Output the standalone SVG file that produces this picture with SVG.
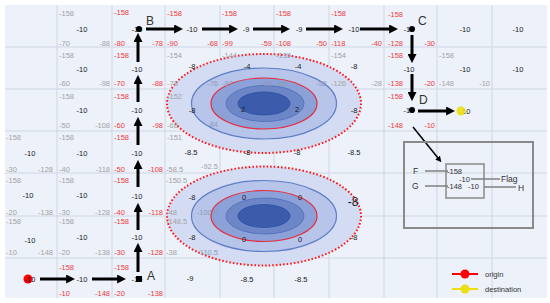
<svg xmlns="http://www.w3.org/2000/svg" width="550" height="303" viewBox="0 0 550 303">
<defs>
<style>
text{font-family:"Liberation Sans",Arial,sans-serif;font-size:7.5px}
.g{fill:#a3a3a3}
.gi{fill:#8f9abb}
.r{fill:#f23c3c}
.k{fill:#1a1a1a;text-anchor:middle}
.e{text-anchor:end}
.lbl{fill:#333;font-size:12px}
.lg{fill:#333;font-size:8.5px}
.grid{stroke:#cfd7e3;stroke-width:1}
.arr{stroke:#000;stroke-width:3;fill:none;marker-end:url(#ah)}
.dot{stroke:#ff1a1a;stroke-width:2;stroke-dasharray:1.6 2;fill:#d3dcf3}
.box{fill:none;stroke:#8a8a8a}
.ll{stroke:#7f7f7f;stroke-width:1.5}
</style>
<marker id="ah" viewBox="0 0 10 10" refX="1" refY="5" markerWidth="3" markerHeight="3" orient="auto" markerUnits="strokeWidth">
<path d="M0,0 L10,5 L0,10 z" fill="#000"/>
</marker>
<marker id="ah2" viewBox="0 0 10 10" refX="1" refY="5" markerWidth="4" markerHeight="4" orient="auto" markerUnits="strokeWidth">
<path d="M0,0 L10,5 L0,10 z" fill="#000"/>
</marker>
<g id="blob">
<ellipse cx="0" cy="0" rx="97" ry="49.5" class="dot"/>
<ellipse cx="0" cy="0" rx="72.5" ry="35.5" fill="#b7c5ea" stroke="#5f7dc6" stroke-width="1.2"/>
<ellipse cx="0" cy="0" rx="53" ry="25.5" fill="#8ca1d7" stroke="#e8283c" stroke-width="1.2"/>
<ellipse cx="1" cy="0" rx="39" ry="18" fill="#6d86c8" stroke="#4e6cb8" stroke-width="0.8"/>
<ellipse cx="0" cy="0" rx="26" ry="11.5" fill="#3a5cab" stroke="#2e4f9e" stroke-width="0.8"/>
</g>
</defs>

<rect x="5" y="5" width="542" height="293" fill="#ecf1fa"/>
<g id="grid" class="grid">
<line x1="57" y1="5" x2="57" y2="298"/><line x1="112" y1="5" x2="112" y2="298"/><line x1="165" y1="5" x2="165" y2="298"/><line x1="220" y1="5" x2="220" y2="298"/><line x1="274" y1="5" x2="274" y2="298"/><line x1="329" y1="5" x2="329" y2="298"/><line x1="384" y1="5" x2="384" y2="298"/><line x1="437" y1="5" x2="437" y2="298"/><line x1="492" y1="5" x2="492" y2="298"/>
<line x1="5" y1="47" x2="547" y2="47"/><line x1="5" y1="89" x2="547" y2="89"/><line x1="5" y1="131" x2="547" y2="131"/><line x1="5" y1="173" x2="547" y2="173"/><line x1="5" y1="216" x2="547" y2="216"/><line x1="5" y1="258" x2="547" y2="258"/>
</g>

<g id="obstacle-upper"><use href="#blob" x="264" y="103.5"/></g>
<g id="obstacle-lower"><use href="#blob" x="264" y="216"/></g>

<!-- row 0 -->
<g id="cell-r0-c1"><text class="g" x="59" y="16">-158</text><text class="k" x="82" y="32">-10</text><text class="g" x="59" y="46">-70</text><text class="g e" x="110" y="46">-88</text></g>
<g id="cell-r0-c2"><text class="r" x="114" y="15">-158</text><text class="k" x="137" y="32">-10</text><text class="r" x="114" y="46">-80</text><text class="r e" x="163" y="46">-78</text></g>
<g id="cell-r0-c3"><text class="r" x="167" y="16">-158</text><text class="k" x="192" y="32">-10</text><text class="r" x="167" y="46">-90</text><text class="r e" x="218" y="46">-68</text></g>
<g id="cell-r0-c4"><text class="r" x="222" y="16">-158</text><text class="k" x="246" y="32">-9</text><text class="r" x="222" y="46">-99</text><text class="r e" x="272" y="46">-59</text></g>
<g id="cell-r0-c5"><text class="r" x="276" y="16">-158</text><text class="k" x="299" y="32">-9</text><text class="r" x="276" y="46">-108</text><text class="r e" x="327" y="46">-50</text></g>
<g id="cell-r0-c6"><text class="r" x="331" y="16">-158</text><text class="k" x="354" y="32">-10</text><text class="r" x="331" y="46">-118</text><text class="r e" x="382" y="46">-40</text></g>
<g id="cell-r0-c7"><text class="r" x="388" y="17">-158</text><text class="k" x="409" y="32">-10</text><text class="r" x="388" y="46">-128</text><text class="r e" x="435" y="46">-30</text></g>
<g id="cell-r0-c8"><text class="k" x="465" y="32">-10</text></g>
<g id="cell-r0-c9"><text class="k" x="518" y="32">-10</text></g>

<!-- row 1 -->
<g id="cell-r1-c1"><text class="g" x="59" y="58">-158</text><text class="k" x="82" y="72">-10</text><text class="g" x="59" y="86">-60</text><text class="g e" x="110" y="86">-98</text></g>
<g id="cell-r1-c2"><text class="r" x="114" y="58">-158</text><text class="k" x="137" y="72">-10</text><text class="r" x="114" y="86">-70</text><text class="r e" x="163" y="86">-88</text></g>
<g id="cell-r1-c3"><text class="g" x="167" y="58">-154</text><text class="k" x="192" y="69">-8</text><text class="g" x="167" y="86">-78</text><text class="gi e" x="218" y="86">-76</text></g>
<g id="cell-r1-c4"><text class="g" x="222" y="58">-144</text><text class="k" x="247" y="69">-4</text><text class="gi" x="222" y="86">-82</text><text class="gi e" x="272" y="86">-62</text></g>
<g id="cell-r1-c5"><text class="gi" x="276" y="58">-139</text><text class="k" x="298" y="69">-4</text><text class="gi" x="276" y="86">-68</text><text class="gi e" x="327" y="86">-52</text></g>
<g id="cell-r1-c6"><text class="g" x="331" y="58">-154</text><text class="k" x="354" y="69">-8</text><text class="g" x="331" y="86">-126</text><text class="g e" x="382" y="86">-28</text></g>
<g id="cell-r1-c7"><text class="r" x="388" y="58">-158</text><text class="k" x="409" y="72">-10</text><text class="r" x="388" y="86">-138</text><text class="r e" x="435" y="86">-20</text></g>
<g id="cell-r1-c8"><text class="g" x="439" y="58">-158</text><text class="k" x="465" y="72">-10</text><text class="g" x="439" y="86">-148</text><text class="g e" x="490" y="86">-10</text></g>
<g id="cell-r1-c9"><text class="k" x="518" y="72">-10</text></g>

<!-- row 2 -->
<g id="cell-r2-c1"><text class="g" x="59" y="99">-158</text><text class="k" x="82" y="113">-10</text><text class="g" x="59" y="128">-50</text><text class="g e" x="110" y="128">-108</text></g>
<g id="cell-r2-c2"><text class="r" x="114" y="99">-158</text><text class="k" x="137" y="113">-10</text><text class="r" x="114" y="128">-60</text><text class="r e" x="163" y="128">-98</text></g>
<g id="cell-r2-c3"><text class="g" x="167" y="99">-152</text><text class="k" x="192" y="113">-8</text><text class="g" x="167" y="128">-68</text><text class="gi e" x="218" y="127">-84</text></g>
<g id="cell-r2-c4"><text class="k" x="243" y="112">2</text></g>
<g id="cell-r2-c5"><text class="k" x="297" y="112">2</text></g>
<g id="cell-r2-c6"><text class="k" x="354" y="113">-8</text></g>
<g id="cell-r2-c7"><text class="r" x="388" y="99">-158</text><text class="k" x="409" y="113">-10</text><text class="r" x="388" y="128">-148</text><text class="r e" x="435" y="128">-10</text></g>
<g id="cell-r2-c8"><text class="k" x="465" y="114">-10</text></g>

<!-- row 3 -->
<g id="cell-r3-c0"><text class="g" x="6" y="140">-158</text><text class="k" x="30" y="156">-10</text><text class="g" x="6" y="172">-30</text><text class="g e" x="53" y="172">-128</text></g>
<g id="cell-r3-c1"><text class="g" x="59" y="140">-158</text><text class="k" x="82" y="156">-10</text><text class="g" x="59" y="172">-40</text><text class="g e" x="110" y="172">-118</text></g>
<g id="cell-r3-c2"><text class="r" x="114" y="140">-158</text><text class="k" x="137" y="156">-10</text><text class="r" x="114" y="172">-50</text><text class="r e" x="163" y="172">-108</text></g>
<g id="cell-r3-c3"><text class="g" x="167" y="140">-151</text><text class="k" x="191" y="155">-8.5</text><text class="g" x="166" y="172">-58.5</text><text class="g e" x="218" y="169">-92.5</text></g>
<g id="cell-r3-c4"><text class="k" x="247" y="155">-8</text></g>
<g id="cell-r3-c5"><text class="k" x="297" y="155">-8</text></g>
<g id="cell-r3-c6"><text class="k" x="354" y="155">-8.5</text></g>

<!-- row 4 -->
<g id="cell-r4-c0"><text class="g" x="6" y="183">-158</text><text class="k" x="28" y="198">-10</text><text class="g" x="6" y="215">-20</text><text class="g e" x="53" y="215">-138</text></g>
<g id="cell-r4-c1"><text class="g" x="59" y="183">-158</text><text class="k" x="82" y="198">-10</text><text class="g" x="59" y="215">-30</text><text class="g e" x="110" y="215">-128</text></g>
<g id="cell-r4-c2"><text class="r" x="114" y="183">-158</text><text class="k" x="137" y="199">-10</text><text class="r" x="114" y="215">-40</text><text class="r e" x="163" y="215">-118</text></g>
<g id="cell-r4-c3"><text class="g" x="166" y="183">-150.5</text><text class="k" x="192" y="200">-8</text><text class="g" x="166" y="215">-48</text><text class="gi e" x="218" y="215">-100.5</text></g>
<g id="cell-r4-c4"><text class="k" x="244" y="200">0</text></g>
<g id="cell-r4-c5"><text class="k" x="300" y="200">0</text></g>
<g id="cell-r4-c6"><text class="k" x="353" y="206" style="font-size:12px">-8</text></g>

<!-- row 5 -->
<g id="cell-r5-c0"><text class="g" x="6" y="224">-158</text><text class="k" x="30" y="243">-10</text><text class="g" x="6" y="255">-10</text><text class="g e" x="53" y="255">-148</text></g>
<g id="cell-r5-c1"><text class="g" x="59" y="224">-158</text><text class="k" x="82" y="240">-10</text><text class="g" x="59" y="255">-20</text><text class="g e" x="110" y="255">-138</text></g>
<g id="cell-r5-c2"><text class="r" x="114" y="224">-158</text><text class="k" x="137" y="240">-10</text><text class="r" x="114" y="255">-30</text><text class="r e" x="163" y="255">-128</text></g>
<g id="cell-r5-c3"><text class="g" x="166" y="224">-148.5</text><text class="k" x="192" y="240">-8</text><text class="g" x="166" y="255">-38</text><text class="gi e" x="218" y="255">-110.5</text></g>
<g id="cell-r5-c4"><text class="k" x="244" y="242">0</text></g>
<g id="cell-r5-c5"><text class="k" x="300" y="242">0</text></g>
<g id="cell-r5-c6"><text class="k" x="354" y="240">-8</text></g>

<!-- row 6 -->
<g id="cell-r6-c0"><circle cx="28" cy="279" r="4.5" fill="#ff0000"/><text class="k" x="30" y="282">-10</text></g>
<g id="cell-r6-c1"><text class="r" x="59" y="270">-158</text><text class="k" x="82" y="282">-10</text><text class="r" x="59" y="296">-10</text><text class="r e" x="110" y="296">-148</text></g>
<g id="cell-r6-c2"><text class="r" x="114" y="270">-158</text><text class="k" x="137" y="282">-10</text><rect x="136" y="276" width="6" height="6" fill="#000"/><text class="r" x="114" y="296">-20</text><text class="r e" x="163" y="296">-138</text></g>
<g id="cell-r6-c3"><text class="k" x="190" y="281">-9</text></g>
<g id="cell-r6-c4"><text class="k" x="247" y="282">-8.5</text></g>
<g id="cell-r6-c5"><text class="k" x="301" y="282">-8.5</text></g>

<!-- path points -->
<g id="point-A"><text class="lbl" x="147" y="280">A</text></g>
<g id="point-B"><circle cx="139" cy="29" r="3" fill="#000"/><text class="lbl" x="146" y="25">B</text></g>
<g id="point-C"><circle cx="412" cy="29" r="3" fill="#000"/><text class="lbl" x="418" y="25">C</text></g>
<g id="point-D"><circle cx="412" cy="110" r="3" fill="#000"/><text class="lbl" x="419" y="104">D</text></g>
<g id="destination"><circle cx="461" cy="111" r="4.5" fill="#ecdf10" opacity="0.9"/></g>

<g id="connectors">
<line class="arr" x1="40" y1="279" x2="67" y2="279"/>
<line class="arr" x1="92" y1="279" x2="118" y2="279"/>
<line class="arr" x1="138" y1="272" x2="138" y2="251"/>
<line class="arr" x1="138" y1="230" x2="138" y2="211"/>
<line class="arr" x1="138" y1="187" x2="138" y2="168"/>
<line class="arr" x1="138" y1="145" x2="138" y2="125"/>
<line class="arr" x1="138" y1="102" x2="138" y2="83"/>
<line class="arr" x1="138" y1="62" x2="138" y2="41"/>
<line class="arr" x1="146" y1="29" x2="175" y2="29"/>
<line class="arr" x1="202" y1="29" x2="230" y2="29"/>
<line class="arr" x1="253" y1="29" x2="282" y2="29"/>
<line class="arr" x1="306" y1="29" x2="335" y2="29"/>
<line class="arr" x1="360" y1="29" x2="390" y2="29"/>
<line class="arr" x1="412" y1="35" x2="412" y2="55"/>
<line class="arr" x1="412" y1="74" x2="412" y2="93"/>
<line class="arr" x1="418" y1="111" x2="447" y2="111"/>
<line x1="413" y1="127" x2="438" y2="158" stroke="#000" stroke-width="1.5" marker-end="url(#ah2)"/>
</g>

<g id="detail-box">
<rect class="box" x="404" y="142" width="129" height="86" stroke-width="2"/>
<rect class="box" x="446" y="164" width="38" height="34" stroke-width="1.5"/>
<line class="ll" x1="425" y1="171" x2="448" y2="171"/>
<line class="ll" x1="471" y1="179" x2="500" y2="179"/>
<line class="ll" x1="425" y1="186" x2="448" y2="186"/>
<line class="ll" x1="484" y1="187" x2="516" y2="187"/>
<text class="lg" x="413" y="174">F</text>
<text style="fill:#333" x="447" y="174">-158</text>
<text style="fill:#333" x="459" y="182">-10</text>
<text class="lg" x="501" y="182">Flag</text>
<text class="lg" x="412" y="189">G</text>
<text style="fill:#333" x="447" y="189">-148</text>
<text style="fill:#333" x="468" y="189">-10</text>
<text class="lg" x="518" y="191">H</text>
</g>

<g id="legend">
<line x1="452" y1="274" x2="478" y2="274" stroke="#ff0000" stroke-width="2"/>
<circle cx="465" cy="274" r="4.5" fill="#ff0000"/>
<text style="fill:#333" x="485" y="277">origin</text>
<line x1="452" y1="289" x2="478" y2="289" stroke="#ecdf10" stroke-width="2"/>
<circle cx="465" cy="289" r="4.5" fill="#ecdf10"/>
<text style="fill:#333" x="485" y="292">destination</text>
</g>
</svg>
